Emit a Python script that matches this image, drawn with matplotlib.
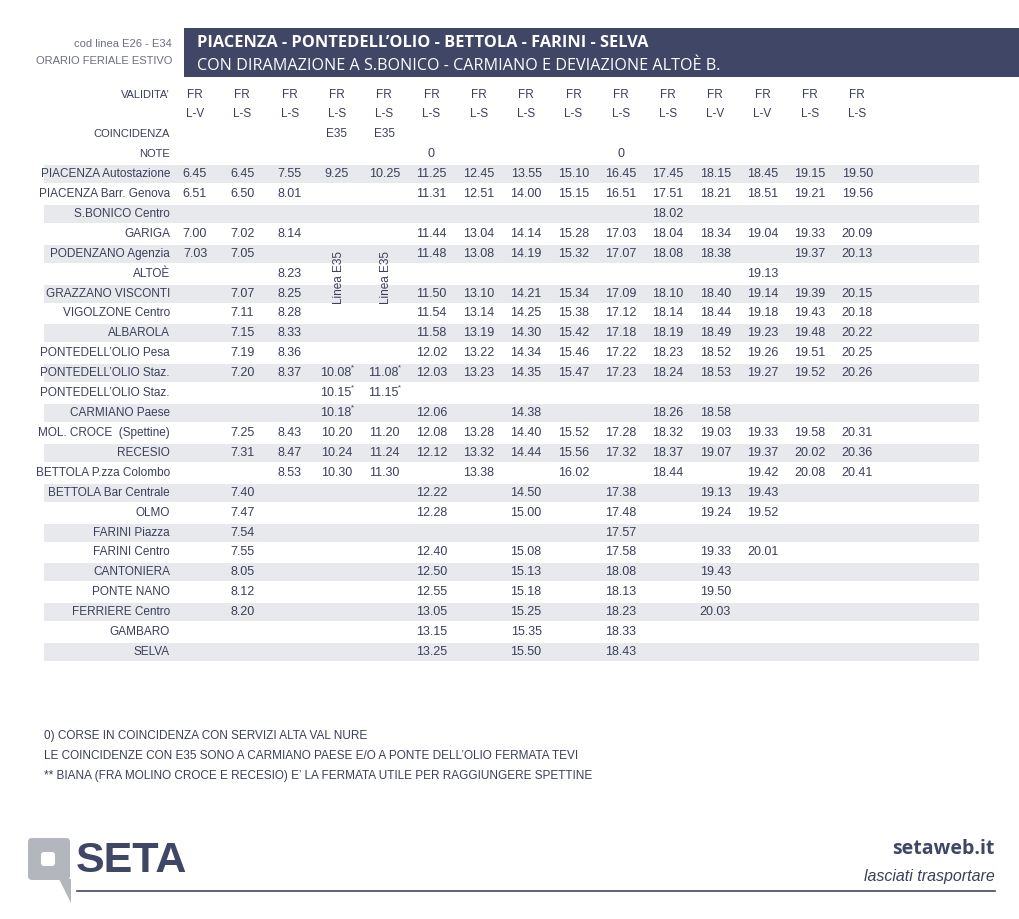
import matplotlib
matplotlib.use("Agg")
import matplotlib.pyplot as plt
from matplotlib.patches import Rectangle, FancyBboxPatch, Polygon

NAVY = "#3f4666"
TXT = "#3b3f5a"
GREY = "#6b6e80"
BAND = "#e8e9ec"
NARROW = ["Liberation Sans", "DejaVu Sans"]

validita = ["L-V", "L-S", "L-S", "L-S", "L-S", "L-S", "L-S", "L-S",
            "L-S", "L-S", "L-S", "L-V", "L-V", "L-S", "L-S"]
coincidenza = ["", "", "", "E35", "E35", "", "", "", "", "", "", "", "", "", ""]
note = ["", "", "", "", "", "0", "", "", "", "0", "", "", "", "", ""]

stations = [
    "PIACENZA Autostazione", "PIACENZA Barr. Genova", "S.BONICO Centro",
    "GARIGA", "PODENZANO Agenzia", "ALTOÈ", "GRAZZANO VISCONTI",
    "VIGOLZONE Centro", "ALBAROLA", "PONTEDELL’OLIO Pesa",
    "PONTEDELL’OLIO Staz.", "PONTEDELL’OLIO Staz.", "CARMIANO Paese",
    "MOL. CROCE  (Spettine)", "RECESIO", "BETTOLA P.zza Colombo",
    "BETTOLA Bar Centrale", "OLMO", "FARINI Piazza", "FARINI Centro",
    "CANTONIERA", "PONTE NANO", "FERRIERE Centro", "GAMBARO", "SELVA",
]

# one row per station, "-" = no stop
times = [
    "6.45 6.45 7.55 9.25 10.25 11.25 12.45 13.55 15.10 16.45 17.45 18.15 18.45 19.15 19.50",
    "6.51 6.50 8.01 - - 11.31 12.51 14.00 15.15 16.51 17.51 18.21 18.51 19.21 19.56",
    "- - - - - - - - - - 18.02 - - - -",
    "7.00 7.02 8.14 - - 11.44 13.04 14.14 15.28 17.03 18.04 18.34 19.04 19.33 20.09",
    "7.03 7.05 - - - 11.48 13.08 14.19 15.32 17.07 18.08 18.38 - 19.37 20.13",
    "- - 8.23 - - - - - - - - - 19.13 - -",
    "- 7.07 8.25 - - 11.50 13.10 14.21 15.34 17.09 18.10 18.40 19.14 19.39 20.15",
    "- 7.11 8.28 - - 11.54 13.14 14.25 15.38 17.12 18.14 18.44 19.18 19.43 20.18",
    "- 7.15 8.33 - - 11.58 13.19 14.30 15.42 17.18 18.19 18.49 19.23 19.48 20.22",
    "- 7.19 8.36 - - 12.02 13.22 14.34 15.46 17.22 18.23 18.52 19.26 19.51 20.25",
    "- 7.20 8.37 10.08* 11.08* 12.03 13.23 14.35 15.47 17.23 18.24 18.53 19.27 19.52 20.26",
    "- - - 10.15* 11.15* - - - - - - - - - -",
    "- - - 10.18* - 12.06 - 14.38 - - 18.26 18.58 - - -",
    "- 7.25 8.43 10.20 11.20 12.08 13.28 14.40 15.52 17.28 18.32 19.03 19.33 19.58 20.31",
    "- 7.31 8.47 10.24 11.24 12.12 13.32 14.44 15.56 17.32 18.37 19.07 19.37 20.02 20.36",
    "- - 8.53 10.30 11.30 - 13.38 - 16.02 - 18.44 - 19.42 20.08 20.41",
    "- 7.40 - - - 12.22 - 14.50 - 17.38 - 19.13 19.43 - -",
    "- 7.47 - - - 12.28 - 15.00 - 17.48 - 19.24 19.52 - -",
    "- 7.54 - - - - - - - 17.57 - - - - -",
    "- 7.55 - - - 12.40 - 15.08 - 17.58 - 19.33 20.01 - -",
    "- 8.05 - - - 12.50 - 15.13 - 18.08 - 19.43 - - -",
    "- 8.12 - - - 12.55 - 15.18 - 18.13 - 19.50 - - -",
    "- 8.20 - - - 13.05 - 15.25 - 18.23 - 20.03 - - -",
    "- - - - - 13.15 - 15.35 - 18.33 - - - - -",
    "- - - - - 13.25 - 15.50 - 18.43 - - - - -",
]

notes = [
    "0) CORSE IN COINCIDENZA CON SERVIZI ALTA VAL NURE",
    "LE COINCIDENZE CON E35 SONO A CARMIANO PAESE E/O A PONTE DELL’OLIO FERMATA TEVI",
    "** BIANA (FRA MOLINO CROCE E RECESIO) E’ LA FERMATA UTILE PER RAGGIUNGERE SPETTINE",
]

fig = plt.figure(figsize=(10.2, 9.19), dpi=100)
ax = fig.add_axes([0, 0, 1, 1])
ax.set_xlim(0, 1020)
ax.set_ylim(919, 0)
ax.axis("off")

# header
ax.add_patch(Rectangle((184, 28), 836, 49, color=NAVY, lw=0))
ax.text(197, 43, "PIACENZA - PONTEDELL’OLIO - BETTOLA - FARINI - SELVA",
        color="white", fontsize=11.8, fontweight="bold", family="Open Sans", va="center")
ax.text(197, 66, "CON DIRAMAZIONE A S.BONICO - CARMIANO E DEVIAZIONE ALTOÈ B.",
        color="white", fontsize=11.6, family="Open Sans", va="center")
ax.text(172, 44, "cod linea E26 - E34", color=GREY, fontsize=8, family=NARROW,
        ha="right", va="center")
ax.text(172, 61, "ORARIO FERIALE ESTIVO", color=GREY, fontsize=8, family=NARROW,
        ha="right", va="center")

col_x = [195 + 47.3 * i for i in range(15)]
label_x = 170
fs = 9

ax.text(label_x, 95, "VALIDITA’", color=TXT, fontsize=8, family=NARROW, ha="right", va="center")
ax.text(label_x, 134, "COINCIDENZA", color=TXT, fontsize=8, family=NARROW, ha="right", va="center")
ax.text(label_x, 154, "NOTE", color=TXT, fontsize=8, family=NARROW, ha="right", va="center")
for x, v, c, n in zip(col_x, validita, coincidenza, note):
    ax.text(x, 95, "FR", color=TXT, fontsize=8.5, family=NARROW, ha="center", va="center")
    ax.text(x, 114, v, color=TXT, fontsize=8.5, family=NARROW, ha="center", va="center")
    if c:
        ax.text(x, 134, c, color=TXT, fontsize=8.5, family=NARROW, ha="center", va="center")
    if n:
        ax.text(x, 154, n, color=TXT, fontsize=9, family=NARROW, ha="center", va="center")

row0, step = 174, 19.92
for i, (name, row) in enumerate(zip(stations, times)):
    y = row0 + i * step
    if i % 2 == 0:
        ax.add_patch(Rectangle((44, y - 9), 935, 18, color=BAND, lw=0))
    ax.text(label_x, y, name, color=TXT, fontsize=8.5, family=NARROW, ha="right", va="center")
    for x, t in zip(col_x, row.split()):
        if t == "-":
            continue
        if t.endswith("*"):
            ax.text(x - 1, y, t[:-1], color=TXT, fontsize=fs, family=NARROW, ha="center", va="center")
            ax.text(x + 14, y - 5, "*", color=TXT, fontsize=5.5, family=NARROW, ha="left", va="center")
        else:
            ax.text(x, y, t, color=TXT, fontsize=fs, family=NARROW, ha="center", va="center")

# vertical "Linea E35" labels
for x in col_x[3:5]:
    ax.text(x + 2, 278, "Linea E35", color=TXT, fontsize=8.5, family=NARROW,
            rotation=90, ha="center", va="center")

for k, line in enumerate(notes):
    ax.text(44, 736 + 20 * k, line, color=TXT, fontsize=8.5, family=NARROW, va="center")

# logo
ax.add_patch(FancyBboxPatch((28, 838), 42, 42, boxstyle="round,pad=0,rounding_size=4",
                            color="#b3b6bc", lw=0))
ax.add_patch(Polygon([(59, 879), (71, 879), (71, 903)], closed=True, color="#b3b6bc", lw=0))
ax.add_patch(FancyBboxPatch((41, 852), 14, 14, boxstyle="round,pad=0,rounding_size=3",
                            color="white", lw=0))
ax.text(76, 861, "SETA", color=NAVY, fontsize=31, fontweight="bold", family=NARROW,
        va="center", ha="left")
ax.plot([77, 995], [891, 891], color=NAVY, lw=1.2)
ax.text(995, 849, "setaweb.it", color=NAVY, fontsize=14, fontweight="bold",
        family="Open Sans", ha="right", va="center")
ax.text(995, 876, "lasciati trasportare", color=TXT, fontsize=11.5, style="italic",
        family="Liberation Sans", ha="right", va="center")

fig.savefig("out.png", dpi=100)
